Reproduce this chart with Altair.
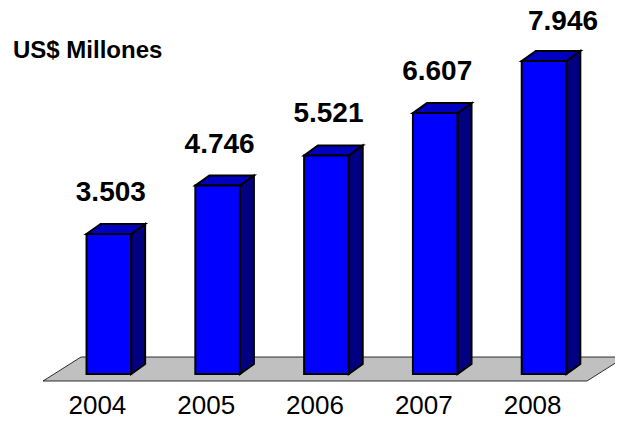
import altair as alt
import pandas as pd

# ---------------- data ----------------
YEARS = ["2004", "2005", "2006", "2007", "2008"]
VALUES = [3503, 4746, 5521, 6607, 7946]   # US$ millones
TITLE = "US$ Millones"

# ---------------- layout / style constants ----------------
W, H = 544, 373
PAD = {"left": 35, "top": 0, "right": 28, "bottom": 35}
N = len(YEARS)
PX_PER_X = W / N                 # px per band
PX_PER_Y = 0.03894               # px per million
ZERO_FROM_BOTTOM = 10.6          # px between floor front edge and zero level
Y_MIN = -ZERO_FROM_BOTTOM / PX_PER_Y
Y_MAX = Y_MIN + H / PX_PER_Y

DEPTH_X = 14 / PX_PER_X          # 3-D depth of the bars
DEPTH_Y = 10 / PX_PER_Y
BAR_L, BAR_R = 0.40, 0.81        # front face inside each band
BAR_BASE = -3.6 / PX_PER_Y
FLOOR_DX = 38 / PX_PER_X         # depth of the grey floor
FLOOR_DY = 24 / PX_PER_Y

FONT = "Liberation Sans"
FRONT, SIDE, TOP = "#0000FF", "#000080", "#0000C0"

xs = alt.Scale(domain=[0, N], nice=False, zero=False)
ys = alt.Scale(domain=[Y_MIN, Y_MAX], nice=False, zero=False)

# ---------------- derived tables ----------------
bars = pd.DataFrame({"year": YEARS, "value": VALUES, "i": list(range(N))})
bars["xl"] = bars["i"] + BAR_L
bars["xr"] = bars["i"] + BAR_R
bars["xc"] = bars["i"] + (BAR_L + BAR_R) / 2
bars["xm"] = bars["i"] + 0.5
bars["base"] = BAR_BASE
bars["label"] = [f"{v/1000:.3f}" for v in VALUES]

side_rows, top_rows = [], []
for _, r in bars.iterrows():
    side_rows.append({"year": r.year, "x": r.xr, "y": r.value, "y2": BAR_BASE})
    side_rows.append({"year": r.year, "x": r.xr + DEPTH_X, "y": r.value + DEPTH_Y, "y2": BAR_BASE + DEPTH_Y})
    top_rows.append({"year": r.year, "y": r.value, "x": r.xl, "x2": r.xr})
    top_rows.append({"year": r.year, "y": r.value + DEPTH_Y, "x": r.xl + DEPTH_X, "x2": r.xr + DEPTH_X})
side = pd.DataFrame(side_rows)
top = pd.DataFrame(top_rows)
floor = pd.DataFrame({
    "y": [Y_MIN, Y_MIN + FLOOR_DY],
    "x": [0, FLOOR_DX],
    "x2": [N, N + FLOOR_DX],
})

# ---------------- layers ----------------
floor_layer = alt.Chart(floor).mark_area(
    orient="horizontal", color="#C0C0C0", stroke="#000000", strokeWidth=0.8
).encode(
    y=alt.Y("y:Q", scale=ys, axis=None),
    x=alt.X("x:Q", scale=xs, axis=alt.Axis(
        values=list(range(N + 1)), labels=False, title=None, grid=False,
        tickSize=6, tickColor="black", domainColor="black", tickWidth=1, domainWidth=1)),
    x2="x2:Q",
)

side_layer = alt.Chart(side).mark_area(
    orient="vertical", color=SIDE, stroke="black", strokeWidth=2, strokeJoin="miter"
).encode(
    x=alt.X("x:Q", scale=xs, axis=None),
    y=alt.Y("y:Q", scale=ys, axis=None),
    y2="y2:Q",
    detail="year:N",
)

top_layer = alt.Chart(top).mark_area(
    orient="horizontal", color=TOP, stroke="black", strokeWidth=2, strokeJoin="miter"
).encode(
    y=alt.Y("y:Q", scale=ys, axis=None),
    x=alt.X("x:Q", scale=xs, axis=None),
    x2="x2:Q",
    detail="year:N",
)

front_layer = alt.Chart(bars).mark_rect(
    color=FRONT, stroke="black", strokeWidth=2
).encode(
    x=alt.X("xl:Q", scale=xs, axis=None),
    x2="xr:Q",
    y=alt.Y("value:Q", scale=ys, axis=None),
    y2="base:Q",
)

value_labels = alt.Chart(bars).transform_filter(
    alt.datum.i < N - 1
).mark_text(
    font=FONT, fontSize=28, fontWeight="bold", color="black",
    baseline="alphabetic", dy=-33, dx=2
).encode(
    x=alt.X("xc:Q", scale=xs, axis=None),
    y=alt.Y("value:Q", scale=ys, axis=None),
    text="label:N",
)

last_label = alt.Chart(bars).transform_filter(
    alt.datum.i == N - 1
).mark_text(
    font=FONT, fontSize=28, fontWeight="bold", color="black",
    baseline="alphabetic", dy=-31, dx=19
).encode(
    x=alt.X("xc:Q", scale=xs, axis=None),
    y=alt.Y("value:Q", scale=ys, axis=None),
    text="label:N",
)

year_labels = alt.Chart(bars).mark_text(
    font=FONT, fontSize=26, color="black", baseline="alphabetic", dy=33
).encode(
    x=alt.X("xm:Q", scale=xs, axis=None),
    y=alt.datum(Y_MIN, scale=ys, axis=None),
    text="year:N",
)

chart = alt.layer(
    floor_layer, side_layer, top_layer, front_layer, value_labels, last_label, year_labels
).properties(
    width=W, height=H,
    padding=PAD,
    autosize=alt.AutoSizeParams(type="none"),
    title=alt.TitleParams(TITLE, anchor="start", frame="group", font=FONT, fontSize=24,
                          fontWeight="bold", color="black", baseline="alphabetic",
                          offset=0, dx=-30, dy=74),
).configure(background="white").configure_view(stroke=None, strokeWidth=0)

chart.save("out.html", embed_options={"renderer": "svg", "actions": False})
